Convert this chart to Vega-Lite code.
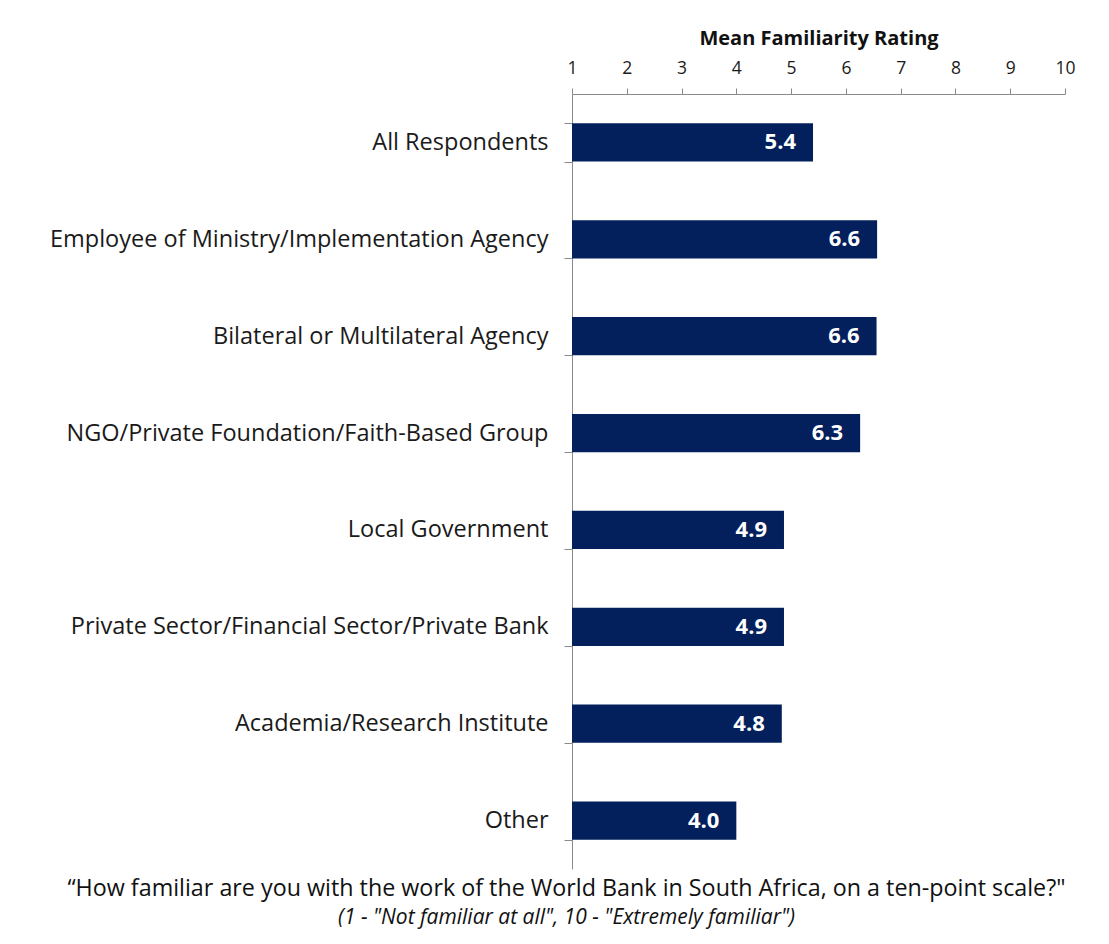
{
  "$schema": "https://vega.github.io/schema/vega-lite/v6.json",
  "width": 493,
  "height": 775,
  "autosize": {"type": "none"},
  "padding": {"left": 572, "top": 94, "right": 44, "bottom": 75},
  "background": "white",
  "config": {
    "font": "Open Sans",
    "view": {"stroke": null}
  },
  "title": {
    "text": "“How familiar are you with the work of the World Bank in South Africa, on a ten-point scale?\"",
    "subtitle": "(1 - \"Not familiar at all\", 10 - \"Extremely familiar\")",
    "orient": "bottom",
    "anchor": "middle",
    "dx": -252,
    "font": "Open Sans",
    "fontSize": 23.3,
    "fontWeight": "normal",
    "color": "#111111",
    "subtitleFont": "Open Sans",
    "subtitleFontSize": 21,
    "subtitleFontStyle": "italic",
    "subtitleColor": "#111111",
    "subtitlePadding": 6,
    "offset": 9
  },
  "data": {
    "values": [
      {"group": "All Respondents", "rating": 5.4},
      {"group": "Employee of Ministry/Implementation Agency", "rating": 6.57},
      {"group": "Bilateral or Multilateral Agency", "rating": 6.56},
      {"group": "NGO/Private Foundation/Faith-Based Group", "rating": 6.26},
      {"group": "Local Government", "rating": 4.87},
      {"group": "Private Sector/Financial Sector/Private Bank", "rating": 4.87},
      {"group": "Academia/Research Institute", "rating": 4.83},
      {"group": "Other", "rating": 4.0}
    ]
  },
  "encoding": {
    "y": {
      "field": "group",
      "type": "nominal",
      "sort": null,
      "scale": {"paddingInner": 0.604, "paddingOuter": 0.302},
      "axis": {
        "title": null,
        "domainColor": "#8a8a8a",
        "tickColor": "#8a8a8a",
        "tickBand": "extent",
        "tickSize": 8,
        "labelFont": "Open Sans",
        "labelFontSize": 23.5,
        "labelColor": "#1a1a1a",
        "labelPadding": 16,
        "labelLimit": 600
      }
    }
  },
  "layer": [
    {
      "mark": {"type": "bar", "color": "#03205C"},
      "encoding": {
        "x": {
          "field": "rating",
          "type": "quantitative",
          "scale": {"domain": [1, 10], "zero": false, "nice": false},
          "axis": {
            "orient": "top",
            "title": "Mean Familiarity Rating",
            "titleFont": "Open Sans",
            "titleFontSize": 20,
            "titleFontWeight": "bold",
            "titleColor": "#111111",
            "titlePadding": 11,
            "values": [1, 2, 3, 4, 5, 6, 7, 8, 9, 10],
            "format": "d",
            "grid": false,
            "domainColor": "#8a8a8a",
            "tickColor": "#8a8a8a",
            "tickSize": 6,
            "labelFont": "Open Sans",
            "labelFontSize": 17.5,
            "labelColor": "#1a1a1a",
            "labelPadding": 11,
            "labelFlush": false
          }
        },
        "x2": {"datum": 1}
      }
    },
    {
      "mark": {"type": "text", "align": "right", "baseline": "middle", "dx": -17, "color": "white", "fontWeight": "bold", "fontSize": 22, "font": "Open Sans"},
      "encoding": {
        "x": {"field": "rating", "type": "quantitative"},
        "text": {"field": "rating", "type": "quantitative", "format": ".1f"}
      }
    }
  ]
}
